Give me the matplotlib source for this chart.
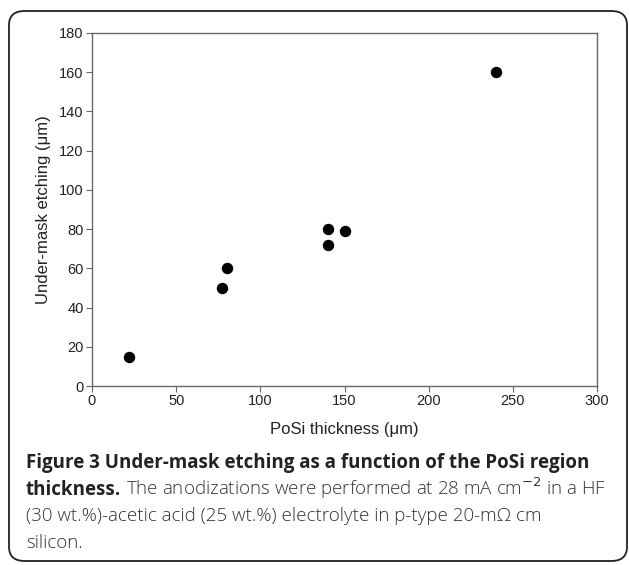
import matplotlib.pyplot as plt
from matplotlib.patches import FancyBboxPatch

# data
thickness = [22, 77, 80, 140, 140, 150, 240]
etching = [15, 50, 60, 80, 72, 79, 160]
xticks = [0, 50, 100, 150, 200, 250, 300]
yticks = [0, 20, 40, 60, 80, 100, 120, 140, 160, 180]

W, H = 629, 565
fig = plt.figure(figsize=(W / 100, H / 100), dpi=100)

# rounded frame around the figure + caption
frame = FancyBboxPatch((9 / W, 4 / H), 618 / W, 550 / H,
                       boxstyle="round,pad=0,rounding_size=0.025",
                       transform=fig.transFigure, fill=False,
                       edgecolor="#222222", linewidth=1.3)
fig.patches.append(frame)

ax = fig.add_axes([92 / W, 1 - 386 / H, (597 - 92) / W, (386 - 33) / H])
ax.scatter(thickness, etching, s=52, color="black", zorder=3)
ax.set_xlim(0, 300)
ax.set_ylim(0, 180)
ax.set_xticks(xticks)
ax.set_yticks(yticks)
for s in ax.spines.values():
    s.set_color("#666666")
    s.set_linewidth(1.0)
ax.tick_params(direction="out", length=4, width=0.8, color="#666666",
               labelsize=10.5, labelcolor="#222222", pad=2)
for lab in ax.get_xticklabels() + ax.get_yticklabels():
    lab.set_family("Liberation Sans")
ax.set_xlabel("PoSi thickness (μm)", fontsize=12, family="Liberation Sans",
              color="#222222", labelpad=10)
ax.set_ylabel("Under-mask etching (μm)", fontsize=12, family="Liberation Sans",
              color="#222222", labelpad=6)

cap = dict(family="Open Sans", fontsize=13.5, color="#222222", va="baseline")
x0 = 26 / W
fig.text(x0, 1 - 468 / H,
         "Figure 3 Under-mask etching as a function of the PoSi region",
         fontweight="bold", **cap)
t = fig.text(x0, 1 - 495 / H, "thickness.", fontweight="bold", **cap)
fig.canvas.draw()
bb = t.get_window_extent()
reg = dict(cap, fontweight="light", color="#333333")
fig.text(bb.x1 / W + 5 / W, 1 - 495 / H,
         "The anodizations were performed at 28 mA cm$^{-2}$ in a HF", **reg)
fig.text(x0, 1 - 521 / H,
         "(30 wt.%)-acetic acid (25 wt.%) electrolyte in p-type 20-mΩ cm", **reg)
fig.text(x0, 1 - 548 / H, "silicon.", **reg)

fig.savefig("out.png", dpi=100)
